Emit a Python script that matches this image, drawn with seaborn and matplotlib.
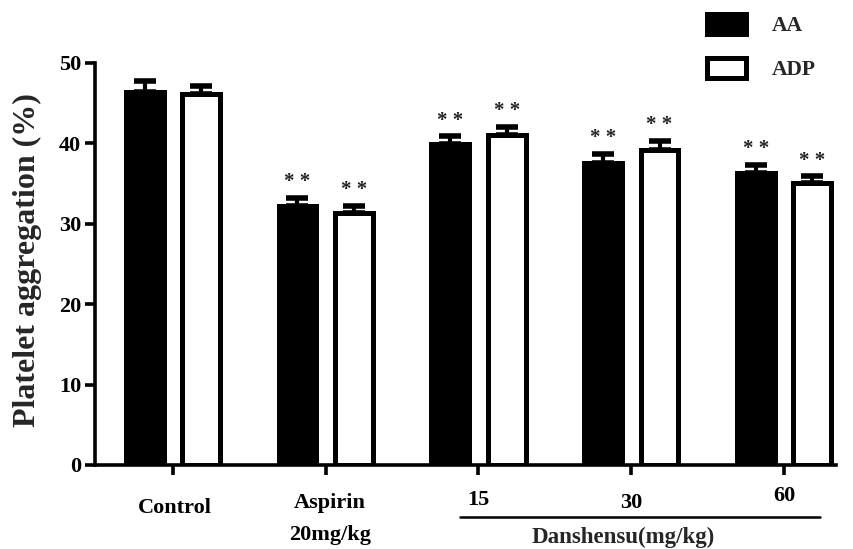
import matplotlib
matplotlib.use("Agg")
import matplotlib.pyplot as plt
import matplotlib.transforms as mtrans
from matplotlib.patches import Patch
import numpy as np
import pandas as pd
import seaborn as sns

# ---- data ----
groups = ["Control", "Aspirin\n20mg/kg", "15", "30", "60"]
series = ["AA", "ADP"]
aa_mean = [46.4, 32.2, 39.9, 37.6, 36.3]
aa_sem = [1.3, 1.0, 1.0, 1.1, 1.0]
adp_mean = [46.2, 31.3, 41.1, 39.2, 35.1]
adp_sem = [1.0, 0.9, 1.0, 1.1, 0.8]
aa_sig = ["", "**", "**", "**", "**"]
adp_sig = ["", "**", "**", "**", "**"]
yticks = [0, 10, 20, 30, 40, 50]
ylabel = "Platelet aggregation (%)"
group_label = "Danshensu(mg/kg)"

df = pd.DataFrame({
    "group": groups * 2,
    "series": ["AA"] * len(groups) + ["ADP"] * len(groups),
    "value": aa_mean + adp_mean,
    "sem": aa_sem + adp_sem,
    "sig": aa_sig + adp_sig,
})

sns.set_theme(style="ticks")
plt.rcParams["font.family"] = ["Liberation Serif", "DejaVu Serif"]
plt.rcParams["font.weight"] = "bold"

fig = plt.figure(figsize=(8.54, 5.49), dpi=100)
ax = fig.add_axes([95 / 854, 1 - 465 / 549, (836 - 95) / 854, (465 - 63) / 549])

lw = 3.6
sns.barplot(data=df, x="group", y="value", hue="series", order=groups,
            hue_order=series, palette={"AA": "black", "ADP": "white"},
            edgecolor="black", linewidth=lw, width=0.74, gap=0.33,
            errorbar=None, legend=False, ax=ax)

# error bars (upper only) and significance stars, from the bar patches
bars = [p for p in ax.patches if p.get_height() > 0]
for i, s in enumerate(series):
    sub = df[df["series"] == s].set_index("group").loc[groups]
    for j, g in enumerate(groups):
        bar = bars[i * len(groups) + j]
        xc = bar.get_x() + bar.get_width() / 2
        top = bar.get_height()
        err = sub.loc[g, "sem"]
        ax.errorbar([xc], [top], yerr=[[0], [err]], fmt="none", ecolor="black",
                    elinewidth=3.0, capsize=8, capthick=4.0, zorder=1)
        if sub.loc[g, "sig"]:
            ax.text(xc, top + err + 0.7, "* *", ha="center", va="bottom",
                    fontsize=15, fontweight="bold", color="#222222")

ax.set_ylim(0, 50)
ax.set_xlim(-0.51, 4.34)
ax.set_yticks(yticks)
ax.set_yticklabels([str(t) for t in yticks], fontsize=16, fontweight="bold")
ax.set_xticks(range(len(groups)))
ax.set_xticklabels(groups, fontsize=16, fontweight="bold", linespacing=1.75)
ax.set_xlabel("")
ax.set_ylabel(ylabel, fontsize=23, fontweight="bold")
ax.yaxis.set_label_coords(-0.072, 0.51)

for sp in ["top", "right"]:
    ax.spines[sp].set_visible(False)
for sp in ["left", "bottom"]:
    ax.spines[sp].set_linewidth(2.6)
    ax.spines[sp].set_color("black")
ax.tick_params(axis="both", which="major", length=7, width=2.6, color="black",
               direction="out", pad=4, colors="black")
ax.tick_params(axis="y", pad=3)
ax.tick_params(axis="x", pad=17)

# label offsets (points)
offsets = [(1.5, 0), (3, 3.5), (0, 6), (0, 4), (0, 9)]
for lab, (dx, dy) in zip(ax.get_xticklabels(), offsets):
    lab.set_transform(lab.get_transform() +
                      mtrans.ScaledTranslation(dx / 72, dy / 72, fig.dpi_scale_trans))

# Danshensu grouping line and label
trans = mtrans.blended_transform_factory(ax.transData, fig.transFigure)
ax.plot([1.88, 4.235], [1 - 517 / 549] * 2, transform=trans, color="black",
        lw=1.8, clip_on=False)
ax.text(2.95, 1 - 543 / 549, group_label, transform=trans, ha="center",
        va="baseline", fontsize=16.5, fontweight="bold")

handles = [Patch(facecolor="black", edgecolor="black", linewidth=lw),
           Patch(facecolor="white", edgecolor="black", linewidth=lw)]
fig.legend(handles, series, loc="upper left", bbox_to_anchor=(707 / 854, 1 - 14 / 549),
           frameon=False, handlelength=1.8, handleheight=1.05,
           labelspacing=1.0, handletextpad=1.2, borderpad=0, borderaxespad=0,
           prop={"weight": "bold", "size": 15.5})

fig.savefig("out.png", dpi=100)
